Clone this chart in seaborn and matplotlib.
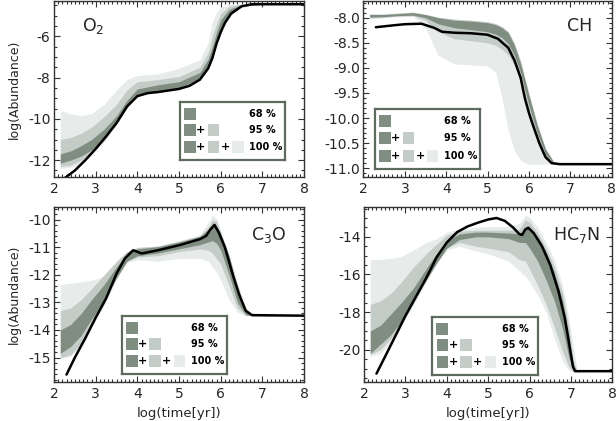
import matplotlib
matplotlib.use("Agg")
import matplotlib.pyplot as plt
import seaborn as sns
from matplotlib.ticker import AutoMinorLocator

# ---- data ----
# O2
o2_x = [2.15, 2.4, 2.65, 2.9, 3.2, 3.5, 3.75, 4.0, 4.5, 5.0, 5.5, 5.7, 5.8, 5.9, 6.0, 6.2, 6.5, 7.0, 8.0]
o2_hi100 = [-9.6, -9.76, -9.85, -9.75, -9.3, -8.6, -8.1, -7.9, -7.82, -7.55, -7.15, -6.3, -5.3, -4.85, -4.6, -4.45, -4.45, -4.45, -4.45]
o2_hi95 = [-11.0, -10.9, -10.7, -10.4, -9.9, -9.3, -8.6, -8.2, -8.1, -7.95, -7.5, -6.8, -6.0, -5.4, -4.9, -4.55, -4.45, -4.45, -4.45]
o2_hi68 = [-11.7, -11.55, -11.3, -11.0, -10.5, -9.85, -9.1, -8.55, -8.35, -8.2, -7.75, -7.1, -6.5, -5.8, -5.2, -4.7, -4.47, -4.45, -4.45]
o2_lo68 = [-12.15, -12.0, -11.8, -11.5, -10.95, -10.2, -9.45, -8.85, -8.65, -8.5, -8.05, -7.5, -7.0, -6.3, -5.75, -5.0, -4.55, -4.45, -4.45]
o2_lo95 = [-12.3, -12.25, -12.0, -11.6, -11.05, -10.25, -9.45, -8.88, -8.7, -8.55, -8.1, -7.55, -7.05, -6.35, -5.8, -5.0, -4.55, -4.45, -4.45]
o2_lo100 = [-12.4, -12.35, -12.2, -11.7, -11.1, -10.25, -9.45, -8.9, -8.72, -8.56, -8.12, -7.57, -7.07, -6.37, -5.82, -5.02, -4.56, -4.45, -4.45]
o2_line_x = [2.2, 2.5, 2.75, 3.0, 3.25, 3.5, 3.75, 4.0, 4.25, 4.5, 5.0, 5.25, 5.5, 5.7, 5.8, 5.9, 6.0, 6.1, 6.25, 6.5, 6.75, 8.0]
o2_line_y = [-12.95, -12.5, -12.0, -11.45, -10.85, -10.2, -9.4, -8.9, -8.75, -8.7, -8.55, -8.4, -8.1, -7.55, -7.05, -6.35, -5.8, -5.35, -4.9, -4.55, -4.45, -4.45]

# CH
ch_x = [2.15, 2.5, 2.8, 3.2, 3.5, 3.8, 4.2, 4.6, 5.0, 5.2, 5.35, 5.5, 5.65, 5.8, 6.0, 6.2, 6.4, 6.6, 6.8, 8.0]
ch_hi100 = [-7.93, -7.93, -7.91, -7.89, -7.93, -7.99, -8.03, -8.05, -8.08, -8.12, -8.18, -8.27, -8.5, -8.85, -9.5, -10.1, -10.6, -10.88, -10.92, -10.92]
ch_hi95 = [-7.93, -7.93, -7.91, -7.89, -7.93, -7.99, -8.03, -8.05, -8.08, -8.12, -8.18, -8.28, -8.52, -8.88, -9.52, -10.12, -10.61, -10.88, -10.92, -10.92]
ch_hi68 = [-7.935, -7.935, -7.92, -7.9, -7.94, -8.0, -8.05, -8.07, -8.1, -8.14, -8.2, -8.3, -8.55, -8.92, -9.55, -10.15, -10.62, -10.88, -10.92, -10.92]
ch_lo68 = [-7.99, -7.98, -7.96, -7.95, -8.0, -8.12, -8.2, -8.24, -8.28, -8.33, -8.4, -8.52, -8.75, -9.1, -9.75, -10.3, -10.72, -10.9, -10.92, -10.92]
ch_lo95 = [-8.0, -7.99, -7.97, -7.96, -8.05, -8.28, -8.42, -8.46, -8.5, -8.55, -8.63, -8.75, -8.95, -9.3, -9.9, -10.4, -10.78, -10.9, -10.92, -10.92]
ch_lo100 = [-8.02, -8.0, -7.98, -7.97, -8.2, -8.75, -8.92, -8.94, -8.96, -9.1, -9.6, -10.25, -10.65, -10.85, -10.92, -10.92, -10.92, -10.92, -10.92, -10.92]
ch_line_x = [2.3, 2.75, 3.0, 3.4, 3.7, 3.9, 4.2, 4.6, 5.0, 5.25, 5.5, 5.65, 5.8, 5.9, 6.0, 6.1, 6.25, 6.4, 6.55, 6.75, 8.0]
ch_line_y = [-8.19, -8.15, -8.13, -8.12, -8.2, -8.28, -8.3, -8.31, -8.34, -8.42, -8.6, -8.85, -9.2, -9.6, -9.9, -10.15, -10.5, -10.78, -10.9, -10.92, -10.92]

# C3O
c3o_x = [2.15, 2.4, 2.65, 2.9, 3.2, 3.5, 3.75, 4.0, 4.5, 5.0, 5.5, 5.7, 5.8, 5.9, 6.0, 6.2, 6.4, 6.6, 6.75, 8.0]
c3o_hi100 = [-12.35, -12.3, -12.25, -12.2, -12.05, -11.7, -11.25, -11.0, -10.95, -10.75, -10.55, -10.1, -9.82, -9.95, -10.4, -11.3, -12.3, -13.2, -13.46, -13.48]
c3o_hi95 = [-13.3, -13.2, -12.9, -12.5, -12.0, -11.5, -11.15, -11.0, -10.95, -10.78, -10.58, -10.25, -10.0, -10.05, -10.45, -11.3, -12.35, -13.25, -13.46, -13.48]
c3o_hi68 = [-14.0, -13.8, -13.4, -12.9, -12.35, -11.7, -11.2, -11.05, -10.97, -10.8, -10.6, -10.35, -10.2, -10.25, -10.5, -11.3, -12.5, -13.3, -13.47, -13.48]
c3o_lo68 = [-14.85, -14.6, -14.2, -13.6, -12.95, -12.1, -11.5, -11.3, -11.2, -11.05, -10.9, -10.8, -10.75, -10.85, -11.1, -12.0, -13.0, -13.45, -13.48, -13.48]
c3o_lo95 = [-15.0, -14.9, -14.5, -13.85, -13.05, -12.1, -11.5, -11.35, -11.3, -11.15, -11.05, -11.1, -11.2, -11.4, -11.6, -12.4, -13.2, -13.46, -13.48, -13.48]
c3o_lo100 = [-15.05, -14.95, -14.55, -13.9, -13.1, -12.15, -11.55, -11.45, -11.5, -11.4, -11.4, -11.5, -11.7, -11.9, -12.2, -12.9, -13.35, -13.47, -13.48, -13.48]
c3o_line_x = [2.3, 2.5, 2.75, 3.0, 3.25, 3.5, 3.7, 3.9, 4.1, 4.5, 5.0, 5.5, 5.65, 5.75, 5.85, 5.95, 6.1, 6.3, 6.45, 6.6, 6.75, 8.0]
c3o_line_y = [-15.62, -15.0, -14.3, -13.55, -12.85, -11.95, -11.4, -11.1, -11.22, -11.1, -10.92, -10.7, -10.58, -10.35, -10.18, -10.45, -11.0, -12.05, -12.75, -13.3, -13.46, -13.48]

# HC7N
hc7n_x = [2.15, 2.4, 2.65, 2.9, 3.2, 3.5, 3.75, 4.0, 4.3, 4.7, 5.0, 5.5, 5.75, 5.9, 6.0, 6.2, 6.4, 6.6, 6.8, 6.95, 7.05, 7.15, 8.0]
hc7n_hi100 = [-15.2, -15.2, -15.15, -15.05, -14.7, -14.3, -14.1, -13.75, -13.6, -13.5, -13.45, -13.45, -13.3, -12.85, -12.95, -13.5, -14.3, -15.2, -16.6, -18.3, -19.8, -21.14, -21.14]
hc7n_hi95 = [-17.6, -17.4, -17.0, -16.4, -15.6, -14.9, -14.4, -13.9, -13.7, -13.65, -13.65, -13.65, -13.6, -13.1, -13.2, -13.8, -14.6, -15.6, -17.0, -18.8, -20.5, -21.14, -21.14]
hc7n_hi68 = [-19.0, -18.7, -18.1, -17.5, -16.7, -15.7, -14.9, -14.2, -13.85, -13.75, -13.75, -13.8, -13.85, -13.5, -13.6, -14.0, -14.8, -15.9, -17.4, -19.2, -20.8, -21.14, -21.14]
hc7n_lo68 = [-20.2, -19.7, -19.2, -18.5, -17.4, -16.3, -15.4, -14.6, -14.15, -14.0, -14.0, -14.1, -14.3, -14.3, -14.6, -15.3, -16.3, -17.4, -18.9, -20.4, -21.1, -21.14, -21.14]
hc7n_lo95 = [-20.25, -20.0, -19.4, -18.6, -17.5, -16.3, -15.4, -14.6, -14.3, -14.5, -14.6, -14.8, -15.2, -15.3, -15.7, -16.6, -17.6, -18.8, -20.1, -20.9, -21.14, -21.14, -21.14]
hc7n_lo100 = [-20.35, -20.2, -19.6, -18.7, -17.6, -16.4, -15.45, -14.7, -14.5, -14.75, -14.9, -15.3, -15.8, -16.1, -16.4, -17.1, -18.0, -19.4, -20.6, -21.1, -21.14, -21.14, -21.14]
hc7n_line_x = [2.3, 2.5, 2.75, 3.0, 3.25, 3.5, 3.75, 4.0, 4.25, 4.5, 4.75, 5.0, 5.2, 5.4, 5.6, 5.75, 5.82, 5.9, 5.97, 6.1, 6.3, 6.5, 6.7, 6.85, 6.95, 7.05, 7.1, 8.0]
hc7n_line_y = [-21.27, -20.4, -19.3, -18.2, -17.2, -16.2, -15.1, -14.3, -13.75, -13.45, -13.25, -13.08, -13.0, -13.15, -13.5, -13.85, -13.9, -13.6, -13.52, -13.8, -14.5, -15.5, -16.9, -18.3, -19.6, -20.9, -21.14, -21.14]

species = ["O$_2$", "CH", "C$_3$O", "HC$_7$N"]
key_labels = ["68 %", "95 %", "100 %"]
x_ticks = [2, 3, 4, 5, 6, 7, 8]

band_colors = ["#808d81", "#c4ccc7", "#e7ebe9"]
key_edge = "#5c6b5c"

sns.set_theme(style="ticks")
plt.rcParams["font.family"] = ["DejaVu Sans"]
plt.rcParams["axes.unicode_minus"] = False

fig = plt.figure(figsize=(6.16, 4.21), dpi=100)
ax_o2 = fig.add_axes([0.0877, 0.5803, 0.406, 0.417])
ax_ch = fig.add_axes([0.590, 0.5803, 0.403, 0.417])
ax_c3o = fig.add_axes([0.0877, 0.0933, 0.406, 0.4157])
ax_hc7n = fig.add_axes([0.591, 0.0933, 0.403, 0.4157])


def draw_panel(ax, x, lo100, lo95, lo68, hi68, hi95, hi100, line_x, line_y):
    ax.fill_between(x, lo100, hi100, color=band_colors[2], lw=0)
    ax.fill_between(x, lo95, hi95, color=band_colors[1], lw=0)
    ax.fill_between(x, lo68, hi68, color=band_colors[0], lw=0)
    sns.lineplot(x=line_x, y=line_y, ax=ax, color="black", lw=1.8,
                 estimator=None, sort=False)
    ax.set_xlim(2, 8)
    ax.set_xticks(x_ticks)
    ax.xaxis.set_minor_locator(AutoMinorLocator(10))
    ax.yaxis.set_minor_locator(AutoMinorLocator())
    ax.tick_params(which="both", direction="in", top=True, right=True,
                   color="#333333", width=0.8, labelsize=10)
    ax.tick_params(axis="x", pad=3.5)
    ax.tick_params(axis="y", pad=2.5)
    ax.tick_params(which="major", length=4)
    ax.tick_params(which="minor", length=2)
    for s in ax.spines.values():
        s.set_color("#333333")
        s.set_linewidth(1.0)


def add_key(ax, bounds):
    lax = ax.inset_axes(bounds)
    lax.set_xlim(0, 1)
    lax.set_ylim(0, 1)
    lax.set_xticks([])
    lax.set_yticks([])
    lax.set_facecolor("white")
    for s in lax.spines.values():
        s.set_color(key_edge)
        s.set_linewidth(1.6)
    rows = [0.8, 0.515, 0.22]
    sq_x = [0.095, 0.317, 0.55]
    plus_x = [0.197, 0.43]
    for i, (row, label) in enumerate(zip(rows, key_labels)):
        n = i + 1
        lax.scatter(sq_x[:n], [row] * n, marker="s", s=68, c=band_colors[:n], linewidths=0)
        for px in plus_x[:i]:
            lax.text(px, row, "+", ha="center", va="center", fontsize=8,
                     fontweight="heavy", color="black")
        lax.text(0.66, row, label, ha="left", va="center", fontsize=7,
                 fontweight="heavy", color="black")


draw_panel(ax_o2, o2_x, o2_lo100, o2_lo95, o2_lo68, o2_hi68, o2_hi95, o2_hi100, o2_line_x, o2_line_y)
ax_o2.set_ylim(-12.8, -4.3)
ax_o2.set_yticks([-12, -10, -8, -6])
ax_o2.text(0.155, 0.86, species[0], transform=ax_o2.transAxes, ha="center", va="center", fontsize=12.5)
add_key(ax_o2, [0.504, 0.096, 0.42, 0.328])
ax_o2.set_ylabel("log(Abundance)", fontsize=9, labelpad=5)

draw_panel(ax_ch, ch_x, ch_lo100, ch_lo95, ch_lo68, ch_hi68, ch_hi95, ch_hi100, ch_line_x, ch_line_y)
ax_ch.set_ylim(-11.17, -7.67)
ax_ch.set_yticks([-11.0, -10.5, -10.0, -9.5, -9.0, -8.5, -8.0])
ax_ch.set_yticklabels(["-11.0", "-10.5", "-10.0", "-9.5", "-9.0", "-8.5", "-8.0"])
ax_ch.text(0.87, 0.86, species[1], transform=ax_ch.transAxes, ha="center", va="center", fontsize=12.5)
add_key(ax_ch, [0.047, 0.044, 0.422, 0.341])

draw_panel(ax_c3o, c3o_x, c3o_lo100, c3o_lo95, c3o_lo68, c3o_hi68, c3o_hi95, c3o_hi100, c3o_line_x, c3o_line_y)
ax_c3o.set_ylim(-15.88, -9.52)
ax_c3o.set_yticks([-15, -14, -13, -12, -11, -10])
ax_c3o.text(0.86, 0.84, species[2], transform=ax_c3o.transAxes, ha="center", va="center", fontsize=12.5)
add_key(ax_c3o, [0.271, 0.045, 0.42, 0.331])
ax_c3o.set_ylabel("log(Abundance)", fontsize=9, labelpad=5)
ax_c3o.set_xlabel("log(time[yr])", fontsize=9.5, labelpad=4.5)

draw_panel(ax_hc7n, hc7n_x, hc7n_lo100, hc7n_lo95, hc7n_lo68, hc7n_hi68, hc7n_hi95, hc7n_hi100, hc7n_line_x, hc7n_line_y)
ax_hc7n.set_ylim(-21.7, -12.4)
ax_hc7n.set_yticks([-20, -18, -16, -14])
ax_hc7n.text(0.855, 0.84, species[3], transform=ax_hc7n.transAxes, ha="center", va="center", fontsize=12.5)
add_key(ax_hc7n, [0.275, 0.041, 0.427, 0.328])
ax_hc7n.set_xlabel("log(time[yr])", fontsize=9.5, labelpad=4.5)

fig.savefig("out.png", dpi=100)
